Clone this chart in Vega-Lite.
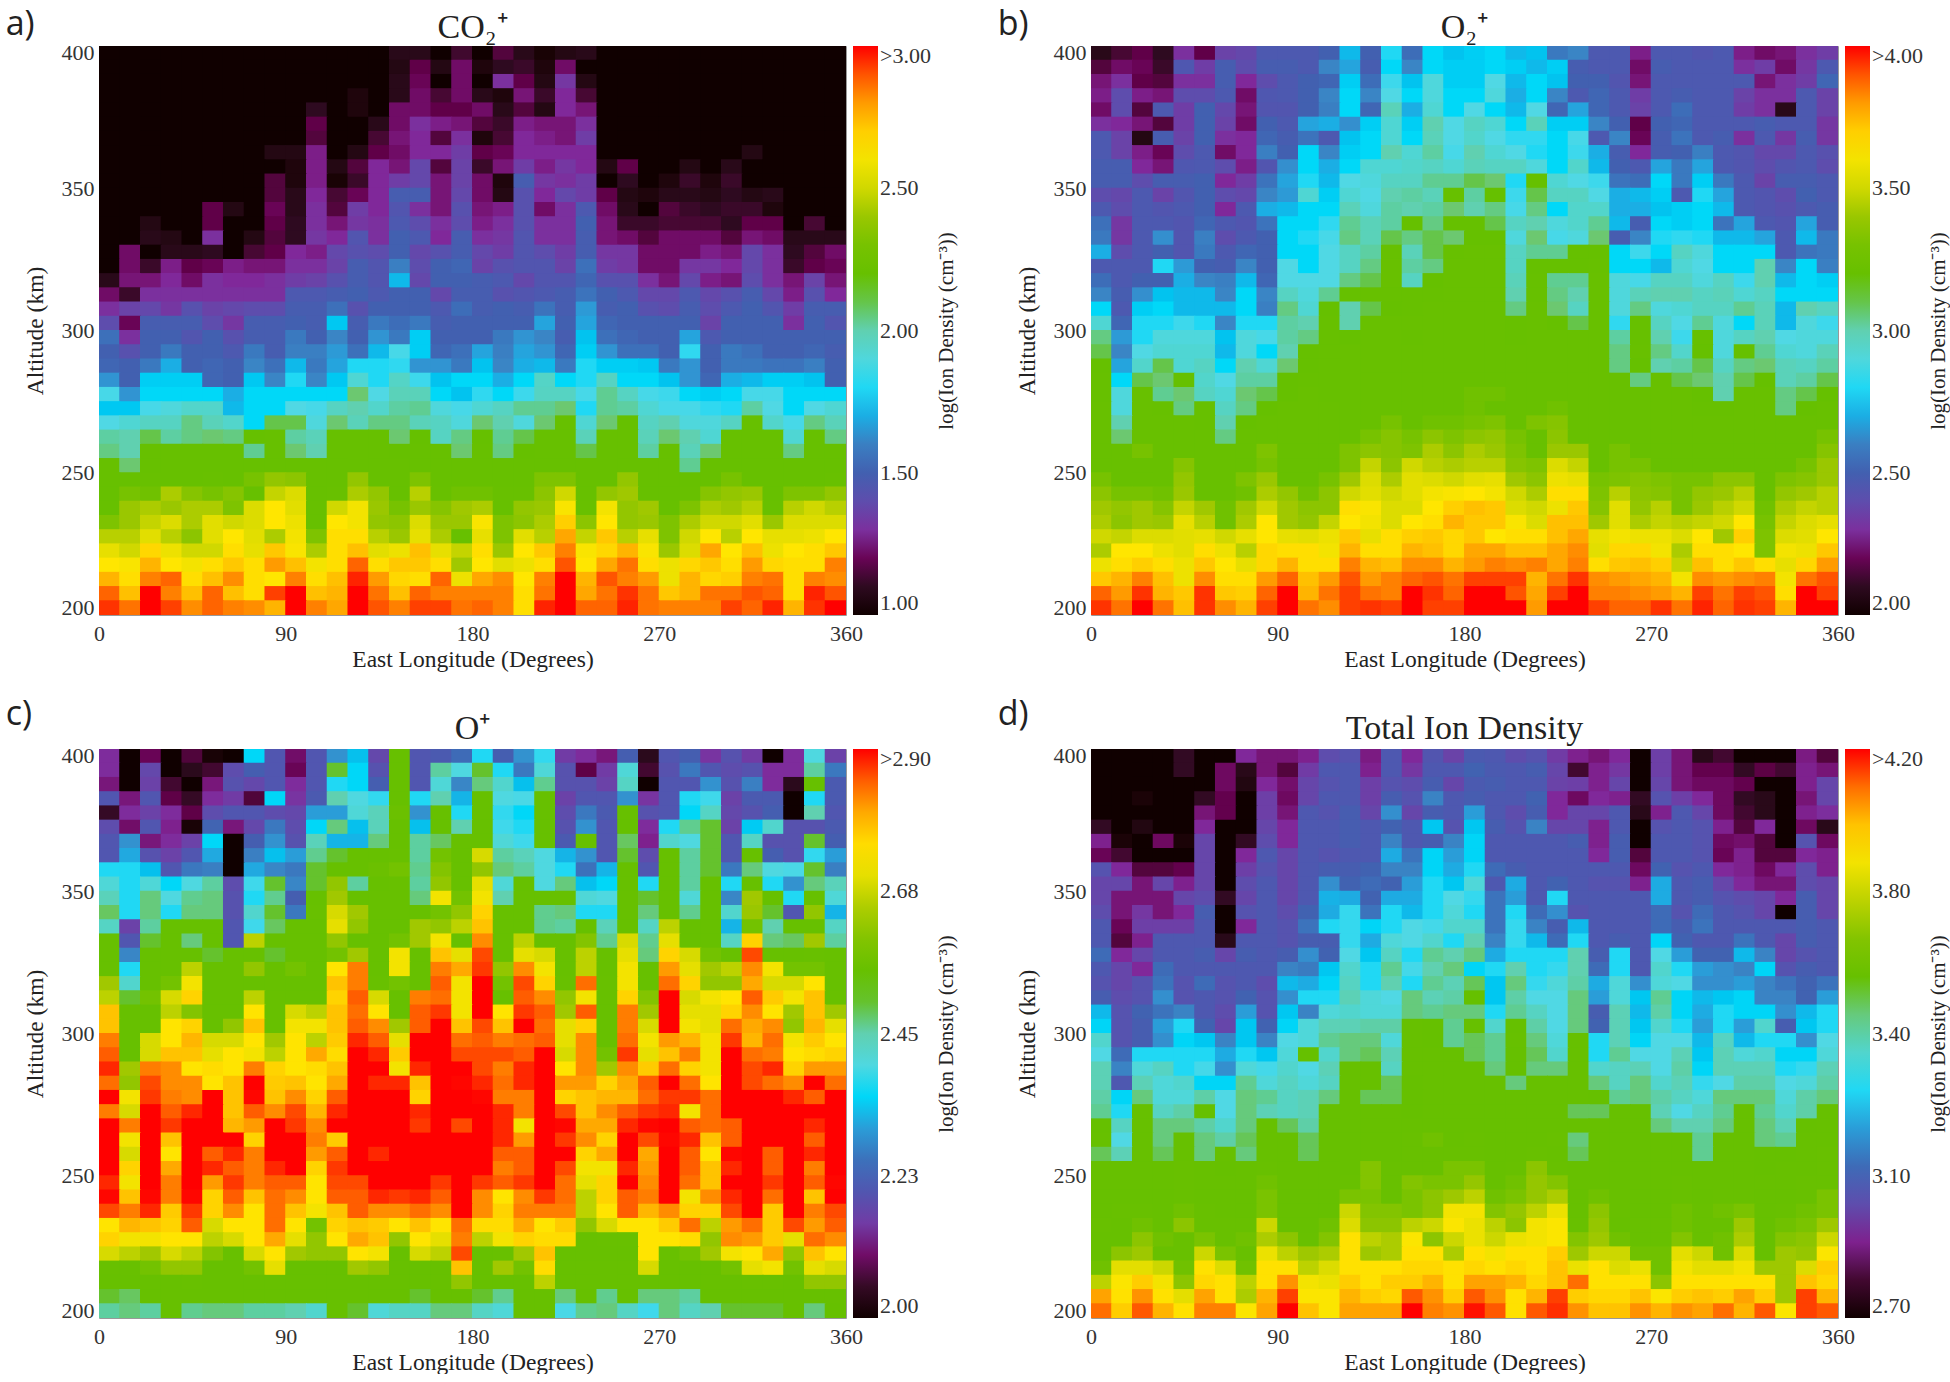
{"$schema":"https://vega.github.io/schema/vega-lite/v6.json","padding":{"left":5,"top":7,"right":0,"bottom":0},"background":"white","columns":2,"spacing":{"column":38,"row":26},"resolve":{"scale":{"color":"independent"},"legend":{"color":"independent"}},
"config":{"font":"Liberation Serif","view":{"stroke":"#999","strokeWidth":1},"title":{"font":"Liberation Serif","fontSize":34,"fontWeight":"normal","color":"#222"},"axis":{"labelFont":"Liberation Serif","titleFont":"Liberation Serif","labelFontSize":22,"titleFontSize":23.5,"titleFontWeight":"normal","labelColor":"#333","titleColor":"#222","grid":false,"domain":false,"ticks":false},"legend":{"labelFont":"Liberation Serif","titleFont":"Liberation Serif","labelFontSize":22,"titleFontSize":21,"titleFontWeight":"normal","labelColor":"#333","titleColor":"#222","titleLimit":600}},
"datasets":{"lon":[{"p":"a","x":[5,15,25,35,45,55,65,75,85,95,105,115,125,135,145,155,165,175,185,195,205,215,225,235,245,255,265,275,285,295,305,315,325,335,345,355]},{"p":"b","x":[5,15,25,35,45,55,65,75,85,95,105,115,125,135,145,155,165,175,185,195,205,215,225,235,245,255,265,275,285,295,305,315,325,335,345,355]},{"p":"c","x":[5,15,25,35,45,55,65,75,85,95,105,115,125,135,145,155,165,175,185,195,205,215,225,235,245,255,265,275,285,295,305,315,325,335,345,355]},{"p":"d","x":[5,15,25,35,45,55,65,75,85,95,105,115,125,135,145,155,165,175,185,195,205,215,225,235,245,255,265,275,285,295,305,315,325,335,345,355]}],
"cells":[
{"p":"a","y":397.5,"v":[100,100,100,100,100,100,100,100,100,100,100,100,100,100,108,108,100,113,100,116,108,102,106,108,100,100,100,100,100,100,100,100,100,100,100,100]},
{"p":"a","y":392.5,"v":[100,100,100,100,100,100,100,100,100,100,100,100,100,100,106,118,106,122,104,110,112,104,122,100,100,100,100,100,100,100,100,100,100,100,100,100]},
{"p":"a","y":387.5,"v":[100,100,100,100,100,100,100,100,100,100,100,100,100,100,108,120,100,122,100,130,118,106,132,106,100,100,100,100,100,100,100,100,100,100,100,100]},
{"p":"a","y":382.5,"v":[100,100,100,100,100,100,100,100,100,100,100,100,104,100,108,122,114,122,108,104,124,112,128,114,100,100,100,100,100,100,100,100,100,100,100,100]},
{"p":"a","y":377.5,"v":[100,100,100,100,100,100,100,100,100,100,110,100,104,100,122,122,118,118,122,108,116,106,128,124,100,100,100,100,100,100,100,100,100,100,100,100]},
{"p":"a","y":372.5,"v":[100,100,100,100,100,100,100,100,100,100,118,100,100,108,122,130,126,124,116,112,126,124,124,130,100,100,100,100,100,100,100,100,100,100,100,100]},
{"p":"a","y":367.5,"v":[100,100,100,100,100,100,100,100,100,100,116,100,100,114,124,128,116,130,104,114,128,126,124,134,100,100,100,100,100,100,100,100,100,100,100,100]},
{"p":"a","y":362.5,"v":[100,100,100,100,100,100,100,100,106,106,126,100,106,118,122,128,128,134,118,120,128,128,128,128,100,100,100,100,100,100,100,106,100,100,100,100]},
{"p":"a","y":357.5,"v":[100,100,100,100,100,100,100,100,100,104,126,106,116,128,124,138,116,136,112,124,134,126,132,128,106,118,100,100,106,100,108,100,100,100,100,100]},
{"p":"a","y":352.5,"v":[100,100,100,100,100,100,100,100,116,104,126,102,112,128,134,138,124,136,122,104,148,132,130,134,100,110,100,104,112,104,112,100,100,100,100,100]},
{"p":"a","y":347.5,"v":[100,100,100,100,100,100,100,100,116,108,128,114,120,128,148,148,124,138,122,106,142,128,138,134,118,106,104,108,108,106,110,106,108,100,100,100]},
{"p":"a","y":342.5,"v":[100,100,100,100,100,118,106,100,120,108,130,116,134,128,144,130,124,142,124,126,142,122,130,146,122,108,100,116,112,110,112,112,104,100,100,100]},
{"p":"a","y":337.5,"v":[100,100,106,100,100,118,100,100,118,110,130,124,132,130,146,140,130,140,126,130,142,130,130,150,124,112,112,114,114,114,110,118,118,100,114,100]},
{"p":"a","y":332.5,"v":[100,100,108,106,100,130,100,106,116,110,132,128,144,130,150,146,128,148,130,132,144,130,130,148,124,122,116,122,122,122,116,124,122,108,108,108]},
{"p":"a","y":327.5,"v":[100,122,100,108,108,110,100,114,118,128,126,138,142,140,150,138,142,148,138,134,144,140,134,148,132,132,122,122,122,126,124,138,130,110,116,122]},
{"p":"a","y":322.5,"v":[100,122,112,126,118,120,126,124,124,130,130,136,148,144,160,140,150,152,136,142,144,144,136,155,134,132,122,122,132,132,128,138,130,112,118,120]},
{"p":"a","y":317.5,"v":[108,124,124,128,122,130,128,128,130,134,136,142,148,144,172,138,150,150,148,146,138,144,144,152,142,142,130,124,138,126,124,140,130,124,136,124]},
{"p":"a","y":312.5,"v":[122,112,130,130,130,130,130,130,130,146,146,148,150,146,150,150,138,148,148,142,144,146,148,156,150,146,138,138,146,138,142,148,138,126,142,128]},
{"p":"a","y":307.5,"v":[130,136,138,132,142,136,138,140,140,148,148,155,142,150,150,150,146,154,148,150,148,156,148,166,148,150,142,140,148,140,146,150,144,134,148,148]},
{"p":"a","y":302.5,"v":[140,120,148,148,148,140,132,148,148,150,148,175,148,158,154,158,148,150,150,150,150,168,150,168,152,150,150,150,150,136,150,150,150,130,150,144]},
{"p":"a","y":297.5,"v":[155,130,150,150,144,150,142,148,148,158,150,162,150,165,158,176,150,150,150,158,165,162,148,174,155,152,150,150,168,146,150,150,150,150,150,150]},
{"p":"a","y":292.5,"v":[150,142,150,158,150,150,146,158,148,160,160,166,155,172,186,176,152,155,168,160,168,165,152,176,165,155,155,150,182,150,158,155,150,150,152,148]},
{"p":"a","y":287.5,"v":[152,150,158,170,150,152,150,162,155,172,158,168,180,180,182,165,165,158,174,162,170,172,158,180,176,176,175,158,165,150,158,158,156,156,160,150]},
{"p":"a","y":282.5,"v":[165,150,176,176,176,152,150,175,162,180,162,175,192,180,195,184,174,178,178,170,178,195,178,180,196,178,178,174,165,152,170,172,176,176,174,150]},
{"p":"a","y":277.5,"v":[186,165,178,178,178,178,170,178,178,178,178,178,208,188,198,198,178,174,182,178,184,196,196,186,204,196,186,184,178,176,178,186,186,178,178,178]},
{"p":"a","y":272.5,"v":[175,175,186,190,194,194,172,178,178,188,186,196,200,194,202,204,190,186,192,196,204,204,208,180,204,202,192,186,186,182,180,202,188,178,188,192]},
{"p":"a","y":267.5,"v":[188,192,196,196,206,198,194,178,210,210,190,208,198,206,206,198,196,190,208,200,190,208,216,192,208,214,196,200,190,190,196,216,194,186,206,198]},
{"p":"a","y":262.5,"v":[202,200,210,202,206,208,206,214,216,202,198,216,216,216,208,214,196,206,214,204,210,216,216,198,216,216,198,208,200,192,216,216,216,192,216,206]},
{"p":"a","y":257.5,"v":[206,200,216,216,216,216,216,204,216,208,200,216,216,216,214,216,216,208,216,206,214,216,216,210,216,216,202,216,198,208,216,216,216,206,216,216]},
{"p":"a","y":252.5,"v":[216,208,218,218,218,218,218,218,222,218,218,218,222,218,218,218,218,218,218,218,218,220,220,218,218,220,218,218,204,218,222,218,218,218,218,218]},
{"p":"a","y":247.5,"v":[218,216,224,216,222,224,216,230,238,236,216,216,238,218,216,232,222,220,222,220,222,232,232,220,220,238,222,222,220,222,230,220,220,220,218,224]},
{"p":"a","y":242.5,"v":[220,230,228,244,234,230,234,222,248,252,218,226,244,238,218,246,226,228,228,224,226,236,250,218,238,242,222,218,224,234,238,240,220,232,232,238]},
{"p":"a","y":237.5,"v":[222,240,244,240,244,244,232,252,264,254,218,250,260,240,230,240,234,242,244,222,238,240,262,226,260,238,242,218,232,244,242,246,226,246,250,246]},
{"p":"a","y":232.5,"v":[232,240,248,252,244,254,250,252,264,258,222,264,260,238,236,252,240,240,262,232,236,244,270,236,264,238,240,232,244,250,250,254,240,252,252,252]},
{"p":"a","y":227.5,"v":[246,246,254,246,236,254,264,254,244,260,232,266,266,246,240,256,244,222,256,232,254,246,278,248,272,246,256,232,250,264,246,264,256,256,258,264]},
{"p":"a","y":222.5,"v":[256,250,268,258,250,250,266,256,272,262,244,266,274,254,258,274,256,248,266,240,264,272,284,262,268,276,262,240,252,278,264,274,258,264,266,272]},
{"p":"a","y":217.5,"v":[264,262,276,264,260,266,272,266,280,274,260,266,288,266,272,272,266,242,264,254,258,266,290,264,278,286,266,258,268,272,266,280,268,266,266,284]},
{"p":"a","y":212.5,"v":[276,266,284,288,266,274,282,266,264,284,266,274,296,280,268,266,288,258,278,282,264,284,300,276,290,284,280,258,276,268,270,284,286,266,284,282]},
{"p":"a","y":207.5,"v":[288,274,300,284,274,288,274,266,292,300,274,276,298,286,274,288,284,284,284,284,266,286,300,278,286,294,286,272,276,286,286,290,288,266,296,290]},
{"p":"a","y":202.5,"v":[294,286,300,292,282,288,284,282,276,300,284,278,300,290,284,292,292,286,288,284,266,296,300,288,288,296,286,284,284,284,292,288,296,276,294,298]},
{"p":"b","y":397.5,"v":[208,214,218,210,230,218,236,238,246,246,246,250,272,250,280,254,278,274,276,278,272,274,258,262,246,246,226,246,246,244,246,226,222,224,230,234]},
{"p":"b","y":392.5,"v":[216,222,220,212,245,234,248,240,248,248,246,262,268,248,278,262,278,276,276,278,276,272,276,248,246,246,222,248,246,246,246,230,234,222,232,246]},
{"p":"b","y":387.5,"v":[224,230,218,216,230,230,248,228,240,246,250,252,276,254,284,274,290,276,276,288,272,278,274,250,250,244,224,246,246,246,246,246,224,230,234,252]},
{"p":"b","y":382.5,"v":[226,240,226,224,240,240,246,222,245,246,250,262,278,262,288,278,290,278,278,290,270,278,262,246,252,246,234,246,248,246,246,236,230,230,246,236]},
{"p":"b","y":377.5,"v":[222,240,216,246,234,250,238,224,244,244,250,260,278,252,298,270,292,278,288,278,272,288,252,268,252,246,236,246,254,246,246,234,230,208,246,236]},
{"p":"b","y":372.5,"v":[230,228,224,216,234,250,236,222,250,246,268,270,264,276,292,276,300,288,296,292,278,298,276,276,262,250,218,250,252,246,246,246,248,246,246,232]},
{"p":"b","y":367.5,"v":[246,236,206,248,236,250,230,228,252,248,256,246,274,278,292,278,298,288,294,288,282,282,278,286,246,262,220,248,256,246,248,230,246,232,248,232]},
{"p":"b","y":362.5,"v":[246,236,226,220,240,246,222,228,260,250,278,262,276,278,300,292,302,286,300,292,288,280,278,284,270,248,228,248,250,260,246,244,238,238,246,242]},
{"p":"b","y":357.5,"v":[248,248,228,224,245,246,240,226,244,264,278,270,278,292,292,294,296,292,298,296,296,290,278,294,272,250,246,268,258,268,246,244,240,244,246,240]},
{"p":"b","y":352.5,"v":[248,248,240,248,248,250,228,234,256,268,280,272,288,290,296,296,304,304,310,308,280,312,292,288,284,256,254,278,258,276,258,246,236,248,248,246]},
{"p":"b","y":347.5,"v":[240,238,246,236,244,250,240,238,262,266,292,276,292,288,300,302,298,318,302,312,284,310,296,296,288,270,272,276,246,280,268,246,244,240,250,246]},
{"p":"b","y":342.5,"v":[246,240,246,244,246,250,228,246,270,272,278,278,298,290,302,300,302,308,300,306,286,306,278,294,294,270,270,274,276,278,272,246,244,242,246,248]},
{"p":"b","y":337.5,"v":[255,232,246,246,244,252,246,244,256,278,278,282,304,298,302,312,306,312,312,310,296,300,290,294,304,272,248,278,276,278,256,268,246,244,268,248]},
{"p":"b","y":332.5,"v":[258,232,246,264,244,260,240,246,250,278,280,286,306,298,310,306,310,308,314,312,290,308,286,290,308,248,262,280,282,280,272,272,268,246,272,258]},
{"p":"b","y":327.5,"v":[270,240,246,250,244,258,246,252,250,278,278,288,296,302,322,298,310,316,326,326,296,304,304,312,312,278,284,278,296,290,278,278,278,246,256,258]},
{"p":"b","y":322.5,"v":[246,246,246,280,266,250,248,262,250,288,278,288,296,306,326,302,306,326,326,326,296,312,312,312,316,278,278,272,292,288,278,278,300,262,278,260]},
{"p":"b","y":317.5,"v":[254,246,250,250,270,262,260,272,252,288,288,288,306,310,326,296,312,326,326,326,298,322,304,304,326,290,286,296,296,290,296,284,300,272,278,276]},
{"p":"b","y":312.5,"v":[262,248,264,274,272,272,262,278,262,296,290,304,312,316,316,316,316,326,326,326,300,316,306,300,326,290,298,300,300,296,298,292,296,278,278,278]},
{"p":"b","y":307.5,"v":[278,246,276,278,272,272,272,278,260,306,292,312,300,310,312,320,326,326,326,326,306,326,308,296,326,290,306,290,292,296,296,304,298,272,300,296]},
{"p":"b","y":302.5,"v":[292,252,280,280,284,280,262,280,280,302,300,320,300,326,326,326,326,326,326,326,318,326,314,310,326,282,320,296,288,304,290,278,298,272,290,284]},
{"p":"b","y":297.5,"v":[306,266,280,290,290,290,274,290,286,302,306,320,312,326,326,316,326,326,326,326,322,326,326,326,326,302,322,300,284,316,290,296,300,288,290,290]},
{"p":"b","y":292.5,"v":[310,262,288,292,292,292,272,290,278,300,312,316,326,326,326,326,326,326,326,326,326,326,326,326,326,306,324,306,294,314,290,312,304,292,290,298]},
{"p":"b","y":287.5,"v":[312,268,294,310,292,296,278,300,292,308,312,320,326,326,326,326,326,326,326,326,326,326,326,326,326,306,312,300,302,310,296,306,308,298,296,302]},
{"p":"b","y":282.5,"v":[316,278,310,308,312,294,288,302,302,314,316,322,326,326,326,326,326,326,326,326,326,326,326,326,326,326,306,326,310,308,300,310,314,298,302,310]},
{"p":"b","y":277.5,"v":[316,290,326,304,308,296,292,308,310,314,326,316,326,326,326,326,326,326,328,328,326,326,326,326,326,326,326,326,326,314,300,326,326,306,310,312]},
{"p":"b","y":272.5,"v":[326,290,326,322,306,318,296,306,314,326,326,326,326,326,326,326,326,326,328,326,326,326,328,326,326,326,326,326,326,318,318,326,326,306,312,326]},
{"p":"b","y":267.5,"v":[326,300,326,326,326,316,300,312,326,326,326,326,326,326,330,326,328,328,330,332,326,332,334,326,326,326,326,326,326,326,326,326,326,326,326,326]},
{"p":"b","y":262.5,"v":[326,308,326,326,326,326,306,326,326,326,326,326,326,330,334,330,336,332,336,338,330,326,336,326,326,326,326,326,326,326,326,326,326,326,326,330]},
{"p":"b","y":257.5,"v":[326,326,330,326,326,326,326,326,332,326,326,326,332,336,334,332,344,336,344,340,332,326,340,340,326,330,326,326,326,326,326,326,326,326,326,334]},
{"p":"b","y":252.5,"v":[326,326,326,326,334,326,326,326,330,326,326,326,332,348,336,350,346,344,346,346,334,332,352,348,326,330,330,326,326,326,326,326,326,326,330,340]},
{"p":"b","y":247.5,"v":[330,326,326,326,338,326,326,332,340,326,326,330,342,352,344,354,352,350,354,356,342,336,358,356,330,332,334,332,330,330,336,336,326,332,334,340]},
{"p":"b","y":242.5,"v":[336,330,330,328,340,326,326,328,344,338,328,336,350,354,350,354,360,362,364,360,350,344,366,366,332,346,336,334,330,338,340,346,326,338,342,346]},
{"p":"b","y":237.5,"v":[342,338,342,334,348,342,328,342,350,342,336,336,366,362,352,352,364,370,374,372,352,350,358,372,334,354,338,346,330,340,346,350,328,344,348,346]},
{"p":"b","y":232.5,"v":[344,336,342,340,356,346,328,344,364,342,338,348,364,360,352,364,366,376,372,372,362,352,374,374,342,354,344,348,346,348,350,364,330,348,352,356]},
{"p":"b","y":227.5,"v":[350,348,352,352,354,356,350,356,364,356,354,358,372,356,366,370,372,368,372,364,366,366,374,378,356,360,358,358,352,364,342,370,332,352,354,364]},
{"p":"b","y":222.5,"v":[344,364,364,358,354,366,358,346,368,366,366,360,376,366,366,376,374,368,378,378,374,374,378,382,354,368,368,360,344,366,366,364,332,360,358,372]},
{"p":"b","y":217.5,"v":[358,366,370,366,358,372,364,356,368,376,366,366,384,376,374,382,382,376,380,384,382,384,378,384,366,372,374,370,348,374,366,372,366,356,368,380]},
{"p":"b","y":212.5,"v":[372,376,384,374,358,382,366,366,380,388,374,380,390,380,384,388,390,386,392,392,392,376,386,394,382,380,378,376,360,382,380,382,384,360,386,390]},
{"p":"b","y":207.5,"v":[388,380,394,376,372,394,372,370,388,400,376,386,392,386,384,400,394,388,400,400,390,378,392,400,384,384,382,380,376,392,386,392,390,366,400,392]},
{"p":"b","y":202.5,"v":[394,386,400,386,374,394,382,376,392,400,386,382,392,394,392,400,392,392,400,400,398,380,398,398,392,388,388,394,386,396,388,394,392,376,398,398]},
{"p":"c","y":397.5,"v":[213,200,209,200,207,201,200,235,220,210,220,229,233,217,253,220,221,224,236,222,229,237,215,213,211,222,204,220,222,214,219,215,200,213,240,216]},
{"p":"c","y":392.5,"v":[213,200,217,200,204,206,218,222,220,209,220,250,235,219,253,220,246,240,250,236,226,241,219,208,215,241,206,219,226,220,218,219,213,213,246,226]},
{"p":"c","y":387.5,"v":[211,200,216,206,200,211,219,217,220,213,220,236,235,222,253,220,241,228,248,242,233,247,219,219,216,243,200,220,220,229,219,227,213,204,252,221]},
{"p":"c","y":382.5,"v":[220,211,220,208,205,213,215,207,235,214,221,245,240,237,253,236,245,232,252,240,239,254,216,220,220,229,214,220,236,238,216,221,221,200,236,221]},
{"p":"c","y":377.5,"v":[205,213,216,213,208,218,220,220,218,217,230,230,241,244,257,229,255,236,254,237,235,252,218,226,221,252,219,220,235,243,217,219,222,200,245,220]},
{"p":"c","y":372.5,"v":[218,210,220,212,201,223,211,217,226,218,235,248,233,244,253,233,252,245,253,238,236,252,219,229,220,251,213,236,247,250,216,234,242,219,219,221]},
{"p":"c","y":367.5,"v":[220,229,211,213,216,235,200,222,229,219,244,232,232,248,253,246,249,253,254,241,238,254,221,255,220,249,212,242,240,250,220,243,219,219,250,222]},
{"p":"c","y":362.5,"v":[220,231,219,216,220,231,200,227,233,230,247,250,255,255,256,246,258,254,268,246,244,240,232,229,220,250,218,252,246,250,220,252,222,219,237,230]},
{"p":"c","y":357.5,"v":[236,236,233,220,226,227,200,231,228,226,250,254,254,257,258,247,260,254,262,248,246,240,236,225,232,254,220,254,246,250,226,248,240,239,250,227]},
{"p":"c","y":352.5,"v":[241,236,241,235,240,246,218,238,250,228,250,262,246,254,256,246,262,254,270,241,254,240,248,233,235,254,236,254,246,254,236,254,236,229,248,244]},
{"p":"c","y":347.5,"v":[244,236,248,240,247,248,219,236,247,222,254,264,254,254,254,248,272,258,272,245,254,252,252,241,240,254,250,254,241,254,228,264,254,236,254,241]},
{"p":"c","y":342.5,"v":[249,236,248,236,248,248,219,242,250,226,256,268,264,254,254,254,258,262,276,254,253,247,248,236,236,254,248,254,247,254,242,263,250,220,262,232]},
{"p":"c","y":337.5,"v":[243,216,246,254,254,254,220,238,249,254,254,270,262,254,254,264,262,266,278,254,254,247,246,253,244,254,243,266,253,254,232,258,245,254,254,243]},
{"p":"c","y":332.5,"v":[254,220,250,254,248,254,220,266,254,252,254,262,254,254,258,264,272,254,282,254,266,254,254,260,247,268,247,270,254,254,243,276,248,249,264,246]},
{"p":"c","y":327.5,"v":[254,228,254,254,254,250,254,254,250,254,254,258,264,254,272,254,278,270,286,254,270,268,254,266,254,270,248,276,268,258,256,286,254,254,256,252]},
{"p":"c","y":322.5,"v":[254,236,254,254,266,254,254,262,254,258,254,274,283,254,272,254,283,280,287,262,282,272,254,266,254,272,254,281,270,264,266,282,272,258,258,254]},
{"p":"c","y":317.5,"v":[264,242,254,258,272,254,254,254,254,254,254,278,283,256,258,254,285,272,290,258,286,276,256,284,256,272,254,284,276,262,262,280,268,268,274,254]},
{"p":"c","y":312.5,"v":[266,250,258,268,276,254,254,266,254,254,254,276,285,268,254,283,284,272,290,254,285,282,262,272,254,276,260,290,268,272,274,285,277,272,278,256]},
{"p":"c","y":307.5,"v":[278,254,254,266,260,254,254,274,254,268,266,278,284,274,254,285,287,272,290,274,287,285,264,285,254,283,264,290,270,270,276,282,274,264,278,264]},
{"p":"c","y":302.5,"v":[278,254,254,274,276,254,262,278,254,272,272,278,285,282,264,285,290,278,286,278,290,284,270,276,254,283,268,290,272,270,284,280,282,262,279,270]},
{"p":"c","y":297.5,"v":[283,254,268,274,279,268,268,274,264,274,266,277,288,285,270,290,290,284,285,283,284,285,270,282,254,284,272,281,279,272,287,279,284,272,277,274]},
{"p":"c","y":292.5,"v":[285,254,268,278,278,270,274,272,266,274,280,275,290,288,277,290,290,286,286,286,285,290,268,282,258,287,270,278,283,272,290,284,283,274,275,276]},
{"p":"c","y":287.5,"v":[288,264,283,282,274,275,274,283,276,274,275,278,290,290,272,288,290,290,286,283,288,290,274,282,264,282,277,284,276,272,290,286,288,276,281,281]},
{"p":"c","y":282.5,"v":[284,262,286,282,282,274,278,290,277,278,274,280,290,288,288,278,290,289,288,284,288,290,281,281,276,280,285,290,284,274,290,286,284,282,290,284]},
{"p":"c","y":277.5,"v":[290,272,287,283,282,290,278,289,278,282,276,285,290,290,290,276,290,290,289,283,283,290,276,278,279,279,284,287,287,284,290,290,290,288,285,290]},
{"p":"c","y":272.5,"v":[283,268,290,285,288,290,278,285,282,286,279,288,290,290,290,288,290,290,290,288,283,290,286,278,282,285,287,288,272,284,290,290,290,290,290,290]},
{"p":"c","y":267.5,"v":[290,283,290,287,290,290,279,281,290,287,282,290,290,290,290,287,290,286,290,288,272,290,289,280,280,288,289,290,285,284,285,290,290,290,288,290]},
{"p":"c","y":262.5,"v":[290,272,290,278,290,290,290,276,290,290,283,277,290,290,290,290,290,290,290,288,281,290,287,282,276,290,286,289,288,278,285,290,290,290,285,290]},
{"p":"c","y":257.5,"v":[290,268,290,274,290,285,288,283,290,290,281,285,290,288,290,290,290,290,290,285,285,290,290,276,280,290,280,290,285,274,289,290,285,290,288,290]},
{"p":"c","y":252.5,"v":[290,276,290,280,290,288,285,283,288,290,276,287,290,290,290,290,290,290,290,283,285,290,286,272,272,288,281,290,285,278,288,290,285,290,283,290]},
{"p":"c","y":247.5,"v":[288,272,290,283,290,281,287,283,285,285,274,286,286,290,290,290,287,290,287,285,287,290,284,270,276,290,282,290,284,278,290,290,287,290,285,289]},
{"p":"c","y":242.5,"v":[289,278,289,283,289,276,285,278,284,282,274,285,285,288,287,288,285,290,282,274,282,287,284,266,276,285,283,290,272,282,288,290,284,290,278,290]},
{"p":"c","y":237.5,"v":[286,283,288,277,287,276,282,274,284,278,272,278,285,282,282,284,282,290,282,276,283,283,283,266,274,285,279,282,276,276,286,290,277,290,283,286]},
{"p":"c","y":232.5,"v":[274,279,278,276,285,268,274,274,284,274,258,276,278,277,274,278,274,284,275,275,280,274,277,262,268,274,274,277,284,266,281,284,277,286,281,285]},
{"p":"c","y":227.5,"v":[276,272,272,274,274,266,268,274,280,270,262,274,280,278,262,274,270,283,266,272,276,275,275,254,256,256,274,274,275,262,282,281,277,270,284,282]},
{"p":"c","y":222.5,"v":[268,266,264,268,266,260,256,268,274,264,262,262,274,272,254,268,266,286,254,256,264,278,254,254,254,254,274,256,258,264,272,274,280,262,278,274]},
{"p":"c","y":217.5,"v":[256,256,258,262,262,254,254,258,270,254,254,254,264,262,254,254,254,278,254,264,258,275,254,254,254,254,268,254,254,254,258,270,272,258,270,268]},
{"p":"c","y":212.5,"v":[252,254,254,254,256,254,254,254,254,254,254,254,254,254,254,254,254,262,254,254,254,266,252,254,254,254,254,254,254,254,254,256,256,254,262,262]},
{"p":"c","y":207.5,"v":[250,249,254,254,254,254,254,254,254,254,254,254,252,254,254,250,254,254,250,247,254,254,248,254,247,254,248,248,246,254,254,254,254,254,254,254]},
{"p":"c","y":202.5,"v":[246,248,246,254,247,248,248,246,246,245,242,254,250,241,243,243,248,248,243,241,254,254,239,247,248,243,238,248,243,245,250,250,250,254,248,251]},
{"p":"d","y":397.5,"v":[270,270,270,270,278,270,270,291,288,288,290,300,302,289,304,291,303,297,305,304,300,302,295,290,288,291,270,296,288,276,280,270,270,270,289,282]},
{"p":"d","y":392.5,"v":[270,270,270,270,278,270,286,276,288,282,295,304,304,290,304,294,304,304,308,305,304,306,298,280,290,294,270,296,288,284,284,278,283,280,290,288]},
{"p":"d","y":387.5,"v":[270,270,270,270,270,270,286,274,291,287,298,302,304,296,302,300,306,298,305,306,304,304,297,296,290,298,270,298,288,286,286,284,270,270,290,298]},
{"p":"d","y":382.5,"v":[270,270,272,270,270,278,284,270,296,286,298,304,304,296,306,302,316,304,306,304,304,308,291,286,291,290,278,302,296,291,286,278,276,270,288,298]},
{"p":"d","y":377.5,"v":[270,270,270,270,270,288,284,270,296,288,304,302,306,298,318,298,306,304,320,304,300,306,291,298,298,304,276,290,304,298,286,280,276,270,290,292]},
{"p":"d","y":372.5,"v":[278,270,274,270,270,291,270,270,298,291,304,304,306,304,308,304,326,302,326,306,302,316,298,298,290,304,270,302,304,302,290,282,291,270,286,276]},
{"p":"d","y":367.5,"v":[290,272,270,286,272,298,270,278,300,291,304,304,306,304,316,304,306,316,328,304,304,304,304,306,290,306,270,304,304,302,286,287,282,270,302,286]},
{"p":"d","y":362.5,"v":[285,280,270,270,270,298,270,291,304,298,304,302,304,304,322,312,328,320,328,304,304,304,304,304,291,306,282,304,304,302,285,290,282,282,291,290]},
{"p":"d","y":357.5,"v":[302,291,282,282,284,298,270,296,302,298,304,306,306,308,316,316,328,322,330,310,306,304,304,304,304,304,286,308,302,304,291,290,286,291,300,290]},
{"p":"d","y":352.5,"v":[298,298,288,298,290,298,270,300,304,298,304,318,308,310,308,320,330,326,338,304,322,304,308,304,302,302,290,322,304,306,298,291,288,288,300,298]},
{"p":"d","y":347.5,"v":[298,288,288,288,298,300,278,298,304,298,304,323,322,308,322,322,330,336,332,312,320,304,330,304,304,304,304,322,304,306,302,300,298,291,306,298]},
{"p":"d","y":342.5,"v":[300,288,294,288,291,306,270,302,304,300,308,322,332,312,330,324,330,338,330,312,330,310,318,302,304,304,304,310,302,310,304,302,298,270,306,298]},
{"p":"d","y":337.5,"v":[304,285,296,296,296,304,270,291,304,302,312,330,332,328,330,336,334,340,340,312,332,316,306,324,304,304,304,310,306,312,304,304,304,304,306,304]},
{"p":"d","y":332.5,"v":[304,282,290,304,304,304,276,304,304,302,306,306,332,322,338,336,340,330,345,316,332,324,310,330,304,306,304,328,308,304,304,312,304,298,306,304]},
{"p":"d","y":327.5,"v":[310,291,298,304,304,306,298,306,304,306,318,308,336,326,342,330,348,345,350,322,330,330,330,345,306,330,304,336,320,308,308,324,316,298,302,304]},
{"p":"d","y":322.5,"v":[304,298,291,310,304,304,304,304,304,316,314,326,340,330,348,334,345,350,328,330,345,330,332,345,310,330,304,340,330,320,318,316,328,302,306,304]},
{"p":"d","y":317.5,"v":[302,298,302,312,302,310,302,304,300,324,322,328,342,330,345,330,348,344,352,326,350,332,338,346,322,338,318,338,336,318,318,320,316,312,308,312]},
{"p":"d","y":312.5,"v":[306,300,302,318,302,304,302,308,302,318,330,330,344,338,336,350,344,346,356,326,346,336,336,350,320,338,326,348,328,324,326,328,316,316,308,320]},
{"p":"d","y":307.5,"v":[324,302,308,312,316,304,300,320,302,326,316,338,340,338,338,350,348,350,350,330,348,342,336,350,306,344,324,346,328,322,330,328,328,318,324,330]},
{"p":"d","y":302.5,"v":[328,302,306,320,330,308,298,326,308,328,338,344,344,346,346,358,354,348,358,340,356,346,336,350,308,344,326,340,330,320,330,320,340,306,326,330]},
{"p":"d","y":297.5,"v":[340,302,306,318,328,326,316,326,316,336,338,348,350,350,338,358,355,348,352,348,358,350,338,360,330,344,328,336,336,324,342,324,330,330,318,336]},
{"p":"d","y":292.5,"v":[336,310,330,330,330,330,322,330,326,338,354,340,350,352,344,358,358,358,352,348,356,352,340,360,330,348,336,336,344,326,344,338,340,328,328,338]},
{"p":"d","y":287.5,"v":[344,316,338,342,330,334,318,338,334,340,336,344,360,358,342,358,360,360,358,350,356,350,350,360,340,342,344,336,346,328,344,344,344,330,332,344]},
{"p":"d","y":282.5,"v":[344,304,344,338,340,328,328,348,338,342,338,342,360,360,352,356,360,360,360,360,350,360,360,358,350,342,350,340,344,332,336,346,346,336,338,346]},
{"p":"d","y":277.5,"v":[346,328,350,338,338,346,336,350,348,342,344,350,360,352,352,356,360,360,360,360,360,360,360,358,354,348,350,346,342,338,350,350,350,338,346,350]},
{"p":"d","y":272.5,"v":[348,330,360,342,346,354,336,350,344,342,344,360,360,360,360,356,360,360,360,360,360,360,360,352,352,360,360,344,336,342,348,360,348,340,346,360]},
{"p":"d","y":267.5,"v":[354,342,360,350,350,346,340,350,360,352,346,360,360,360,360,360,360,360,360,360,360,360,360,360,360,360,360,350,345,345,350,360,350,344,356,360]},
{"p":"d","y":262.5,"v":[360,336,360,350,360,350,346,352,360,360,352,360,360,360,360,364,366,360,362,360,360,360,364,350,360,360,360,360,358,348,360,360,350,348,360,360]},
{"p":"d","y":257.5,"v":[352,344,360,352,360,350,358,350,360,360,352,360,360,360,360,362,364,362,364,360,360,362,360,352,360,360,360,360,360,348,360,360,354,354,360,362]},
{"p":"d","y":252.5,"v":[360,358,360,360,362,360,354,360,362,360,360,360,360,370,362,364,364,368,368,360,364,372,364,360,360,360,360,360,360,358,360,360,354,360,360,362]},
{"p":"d","y":247.5,"v":[360,360,360,360,364,360,360,360,366,360,360,360,364,370,362,370,368,368,374,360,366,374,370,360,360,360,360,360,362,360,360,360,360,360,362,364]},
{"p":"d","y":242.5,"v":[360,360,360,360,362,360,360,360,368,360,360,360,368,368,362,368,372,376,380,366,368,374,378,360,366,362,360,360,362,360,362,362,360,360,362,368]},
{"p":"d","y":237.5,"v":[360,362,364,360,366,362,360,360,368,360,360,360,382,370,370,368,372,390,390,370,374,380,388,360,372,364,360,358,366,362,366,368,358,362,366,368]},
{"p":"d","y":232.5,"v":[362,360,366,360,372,362,362,362,382,360,358,366,384,372,372,380,382,392,388,380,372,390,392,362,374,360,364,364,366,362,364,376,358,366,368,376]},
{"p":"d","y":227.5,"v":[360,360,372,366,364,368,364,366,378,372,364,370,394,380,378,392,372,382,388,382,388,390,392,370,376,366,364,362,370,362,366,378,358,370,372,382]},
{"p":"d","y":222.5,"v":[360,372,376,362,362,382,368,362,388,380,376,378,394,376,378,394,394,378,394,390,394,394,398,376,382,382,366,366,386,382,366,384,358,376,374,392]},
{"p":"d","y":217.5,"v":[366,386,386,382,366,394,384,366,394,394,380,384,394,394,394,396,396,394,396,394,396,394,400,388,394,384,388,366,390,386,386,390,376,376,384,398]},
{"p":"d","y":212.5,"v":[380,392,398,390,372,396,394,380,394,406,390,388,398,394,398,398,402,394,404,404,402,396,400,410,394,394,394,372,394,394,394,394,394,376,400,396]},
{"p":"d","y":207.5,"v":[404,394,406,394,386,404,394,378,402,414,392,392,402,398,396,412,406,398,412,406,394,402,414,398,396,396,400,392,398,400,398,404,398,376,414,402]},
{"p":"d","y":202.5,"v":[410,398,412,402,394,408,408,392,404,420,400,392,404,404,404,420,408,406,418,412,394,412,416,406,400,400,406,402,406,404,410,402,412,392,414,412]}
]},
"concat":[
{"width":747,"height":569,"title":{"text":"CO₂⁺","offset":-37},"layer":[{"data":{"name":"cells"},"transform":[{"filter":"datum.p=='a'"},{"lookup":"p","from":{"data":{"name":"lon"},"key":"p","fields":["x"]}},{"flatten":["v","x"]}],"mark":{"type":"rect","width":21.8,"height":15.2,"clip":true},"encoding":{"x":{"field":"x","type":"quantitative","scale":{"domain":[0,360],"nice":false,"zero":false},"axis":{"values":[0,90,180,270,360],"title":"East Longitude (Degrees)","labelFlush":false,"labelPadding":8,"titlePadding":3}},"y":{"field":"y","type":"quantitative","scale":{"domain":[200,400],"nice":false,"zero":false},"axis":{"values":[200,250,300,350,400],"title":"Altitude (km)","labelFlush":true,"labelFlushOffset":4,"labelPadding":5,"titlePadding":14}},"color":{"field":"v","type":"quantitative","scale":{"domain":[100,110,118,128,150,162,178,188,200,208,212,226,242,252,264,274,284,292,298,300],"range":["#100000","#2e0a20","#600048","#80289a","#4260b0","#3a85c5","#00d8f8","#50d8e4","#60d0b0","#6cc870","#66c000","#68c000","#a0c800","#dcdc00","#ffe600","#ffc000","#ff8000","#ff4000","#ff0000","#ff0000"]},"legend":{"orient":"right","offset":7,"gradientLength":569,"gradientThickness":25,"gradientStrokeColor":"#999","values":[100,150,200,250,300],"labelExpr":"datum.value>=300?'>3.00':format(datum.value/100,'.2f')","title":"log(Ion Density (cm⁻³))","titleOrient":"right","titleAnchor":"middle","titleAlign":"center","titleBaseline":"top","encoding":{"title":{"angle":{"value":270}}}}}}},{"data":{"values":[{"x":-45,"y":407.5,"t":"a)"}]},"mark":{"type":"text","font":"Open Sans","fontSize":34,"align":"left","color":"#222"},"encoding":{"x":{"field":"x","type":"quantitative"},"y":{"field":"y","type":"quantitative"},"text":{"field":"t"}}}]},
{"width":747,"height":569,"title":{"text":"O₂⁺","offset":-37},"layer":[{"data":{"name":"cells"},"transform":[{"filter":"datum.p=='b'"},{"lookup":"p","from":{"data":{"name":"lon"},"key":"p","fields":["x"]}},{"flatten":["v","x"]}],"mark":{"type":"rect","width":21.8,"height":15.2,"clip":true},"encoding":{"x":{"field":"x","type":"quantitative","scale":{"domain":[0,360],"nice":false,"zero":false},"axis":{"values":[0,90,180,270,360],"title":"East Longitude (Degrees)","labelFlush":false,"labelPadding":8,"titlePadding":3}},"y":{"field":"y","type":"quantitative","scale":{"domain":[200,400],"nice":false,"zero":false},"axis":{"values":[200,250,300,350,400],"title":"Altitude (km)","labelFlush":true,"labelFlushOffset":4,"labelPadding":5,"titlePadding":14}},"color":{"field":"v","type":"quantitative","scale":{"domain":[200,210,218,228,250,262,278,288,300,308,312,326,342,352,364,374,384,392,398,400],"range":["#100000","#2e0a20","#600048","#80289a","#4260b0","#3a85c5","#00d8f8","#50d8e4","#60d0b0","#6cc870","#66c000","#68c000","#a0c800","#dcdc00","#ffe600","#ffc000","#ff8000","#ff4000","#ff0000","#ff0000"]},"legend":{"orient":"right","offset":7,"gradientLength":569,"gradientThickness":25,"gradientStrokeColor":"#999","values":[200,250,300,350,400],"labelExpr":"datum.value>=400?'>4.00':format(datum.value/100,'.2f')","title":"log(Ion Density (cm⁻³))","titleOrient":"right","titleAnchor":"middle","titleAlign":"center","titleBaseline":"top","encoding":{"title":{"angle":{"value":270}}}}}}},{"data":{"values":[{"x":-45,"y":407.5,"t":"b)"}]},"mark":{"type":"text","font":"Open Sans","fontSize":34,"align":"left","color":"#222"},"encoding":{"x":{"field":"x","type":"quantitative"},"y":{"field":"y","type":"quantitative"},"text":{"field":"t"}}}]},
{"width":747,"height":569,"title":{"text":"O⁺","offset":-48},"layer":[{"data":{"name":"cells"},"transform":[{"filter":"datum.p=='c'"},{"lookup":"p","from":{"data":{"name":"lon"},"key":"p","fields":["x"]}},{"flatten":["v","x"]}],"mark":{"type":"rect","width":21.8,"height":15.2,"clip":true},"encoding":{"x":{"field":"x","type":"quantitative","scale":{"domain":[0,360],"nice":false,"zero":false},"axis":{"values":[0,90,180,270,360],"title":"East Longitude (Degrees)","labelFlush":false,"labelPadding":8,"titlePadding":3}},"y":{"field":"y","type":"quantitative","scale":{"domain":[200,400],"nice":false,"zero":false},"axis":{"values":[200,250,300,350,400],"title":"Altitude (km)","labelFlush":true,"labelFlushOffset":4,"labelPadding":5,"titlePadding":14}},"color":{"field":"v","type":"quantitative","scale":{"domain":[200,204.5,208.1,212.6,222.5,227.9,235.1,239.6,245,248.6,250.4,256.7,263.9,268.4,273.8,278.3,282.8,286.4,289.1,290],"range":["#100000","#2e0a20","#600048","#80289a","#4260b0","#3a85c5","#00d8f8","#50d8e4","#60d0b0","#6cc870","#66c000","#68c000","#a0c800","#dcdc00","#ffe600","#ffc000","#ff8000","#ff4000","#ff0000","#ff0000"]},"legend":{"orient":"right","offset":7,"gradientLength":569,"gradientThickness":25,"gradientStrokeColor":"#999","values":[200,222.5,245,267.5,290],"labelExpr":"datum.value>=290?'>2.90':datum.value>=267?'2.68':datum.value>=245?'2.45':datum.value>=222?'2.23':'2.00'","title":"log(Ion Density (cm⁻³))","titleOrient":"right","titleAnchor":"middle","titleAlign":"center","titleBaseline":"top","encoding":{"title":{"angle":{"value":270}}}}}}},{"data":{"values":[{"x":-45,"y":412,"t":"c)"}]},"mark":{"type":"text","font":"Open Sans","fontSize":34,"align":"left","color":"#222"},"encoding":{"x":{"field":"x","type":"quantitative"},"y":{"field":"y","type":"quantitative"},"text":{"field":"t"}}}]},
{"width":747,"height":569,"title":{"text":"Total Ion Density","offset":-48},"layer":[{"data":{"name":"cells"},"transform":[{"filter":"datum.p=='d'"},{"lookup":"p","from":{"data":{"name":"lon"},"key":"p","fields":["x"]}},{"flatten":["v","x"]}],"mark":{"type":"rect","width":21.8,"height":15.2,"clip":true},"encoding":{"x":{"field":"x","type":"quantitative","scale":{"domain":[0,360],"nice":false,"zero":false},"axis":{"values":[0,90,180,270,360],"title":"East Longitude (Degrees)","labelFlush":false,"labelPadding":8,"titlePadding":3}},"y":{"field":"y","type":"quantitative","scale":{"domain":[200,400],"nice":false,"zero":false},"axis":{"values":[200,250,300,350,400],"title":"Altitude (km)","labelFlush":true,"labelFlushOffset":4,"labelPadding":5,"titlePadding":14}},"color":{"field":"v","type":"quantitative","scale":{"domain":[270,277.5,283.5,291,307.5,316.5,328.5,336,345,351,354,364.5,376.5,384,393,400.5,408,414,418.5,420],"range":["#100000","#2e0a20","#600048","#80289a","#4260b0","#3a85c5","#00d8f8","#50d8e4","#60d0b0","#6cc870","#66c000","#68c000","#a0c800","#dcdc00","#ffe600","#ffc000","#ff8000","#ff4000","#ff0000","#ff0000"]},"legend":{"orient":"right","offset":7,"gradientLength":569,"gradientThickness":25,"gradientStrokeColor":"#999","values":[270,307.5,345,382.5,420],"labelExpr":"datum.value>=420?'>4.20':datum.value>=382?'3.80':datum.value>=345?'3.40':datum.value>=307?'3.10':'2.70'","title":"log(Ion Density (cm⁻³))","titleOrient":"right","titleAnchor":"middle","titleAlign":"center","titleBaseline":"top","encoding":{"title":{"angle":{"value":270}}}}}}},{"data":{"values":[{"x":-45,"y":412,"t":"d)"}]},"mark":{"type":"text","font":"Open Sans","fontSize":34,"align":"left","color":"#222"},"encoding":{"x":{"field":"x","type":"quantitative"},"y":{"field":"y","type":"quantitative"},"text":{"field":"t"}}}]}
]}
